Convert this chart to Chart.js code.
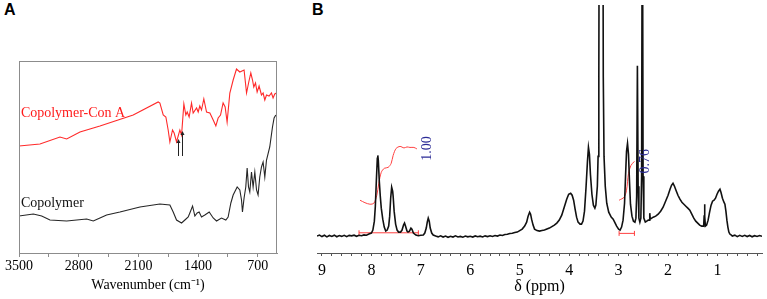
<!DOCTYPE html>
<html>
<head>
<meta charset="utf-8">
<script src="https://cdn.jsdelivr.net/npm/chart.js@4/dist/chart.umd.min.js"></script>
<style>
  html, body { margin: 0; padding: 0; background: #fff; }
  body { width: 767px; height: 299px; position: relative; overflow: hidden; }
  .panel { position: absolute; top: 0; height: 299px; }
  .tag { position: absolute; top: 2px; font: bold 16px "Liberation Sans", Arial, sans-serif; color: #000; line-height: 16px; }
</style>
</head>
<body>
<div class="tag" style="left:4px">A</div>
<div class="tag" style="left:312px">B</div>
<div class="panel" style="left:0; width:290px"><canvas id="canvas_ftir"></canvas></div>
<div class="panel" style="left:290px; width:477px"><canvas id="canvas_nmr"></canvas></div>
<script>
// ---- panel A: FTIR ----
var conA_wn = [3500, 3254, 3020, 2941, 2785, 2551, 2161, 1868, 1848, 1809, 1778, 1751, 1731, 1700, 1681, 1653,
    1614, 1594, 1567, 1544, 1528, 1505, 1477, 1458, 1418, 1399, 1380, 1360, 1333, 1301, 1262, 1223, 1192,
    1165, 1137, 1107, 1083, 1060, 1028, 989, 950, 911, 861, 832, 806, 782, 762, 747, 727, 708, 685, 657,
    638, 618, 598, 568, 540, 521, 501, 481];
var conA_val = [107, 109, 116, 114, 121, 127, 138, 151, 150, 138, 136, 123, 111, 123, 120, 111,
    123, 118, 149, 138, 141, 136, 150, 140, 145, 141, 147, 143, 154, 141, 140, 133, 127,
    135, 138, 150, 146, 131, 160, 173, 184, 181, 183, 160, 171, 180, 173, 166, 170, 161, 167, 158,
    160, 153, 158, 157, 160, 155, 159, 160];
var copo_wn = [3500, 3332, 3234, 3137, 2941, 2707, 2629, 2551, 2473, 2317, 2082, 1848, 1731, 1692, 1653,
    1594, 1555, 1516, 1497, 1465, 1438, 1411, 1388, 1360, 1321, 1270, 1223, 1184, 1126, 1075, 1048,
    1016, 989, 942, 911, 891, 880, 861, 841, 825, 809, 794, 774, 755, 735, 715, 697, 677, 657, 638,
    618, 598, 560, 528, 509, 489];
var copo_val = [37, 39, 37, 33, 32, 34, 32, 35, 38, 41, 46, 49, 48, 41, 33,
    30, 33, 36, 40, 47, 37, 40, 41, 36, 38, 41, 35, 32, 35, 33, 36,
    50, 58, 66, 63, 53, 41, 55, 66, 85, 66, 61, 81, 66, 81, 63, 58, 76, 86, 91,
    76, 93, 106, 126, 135, 138];
var ftirTicks = [3500, 3150, 2800, 2450, 2100, 1750, 1400, 1050, 700];
var ftirTickLabels = [3500, 2800, 2100, 1400, 700];
var ftirNames = ['Copolymer-Con A', 'Copolymer'];
var ftirNameWn = [3478, 3478];
var ftirNameVal = [136, 46];
var arrowWn = [1641, 1587];
var arrowFrom = [97, 97];
var arrowTo = [114, 122];

// ---- panel B: 1H NMR ----
var nmrPpm = [9.10, 9.05, 9.00, 8.95, 8.90, 8.85, 8.80, 8.75, 8.70, 8.65, 8.60, 8.55, 8.50, 8.45, 8.40, 8.35,
    8.30, 8.25, 8.20, 8.15, 8.10, 8.05, 8.00, 7.97, 7.94, 7.92, 7.90, 7.88, 7.87, 7.86, 7.84, 7.82, 7.80,
    7.77, 7.74, 7.71, 7.68, 7.65, 7.63, 7.61, 7.59, 7.57, 7.56, 7.54, 7.51, 7.48, 7.45, 7.41, 7.38, 7.35,
    7.33, 7.31, 7.28, 7.26, 7.23, 7.20, 7.18, 7.15, 7.10, 7.05, 7.00, 6.95, 6.92, 6.89, 6.87, 6.85, 6.83,
    6.81, 6.78, 6.75, 6.70, 6.65, 6.60, 6.55, 6.50, 6.45, 6.40, 6.35, 6.30, 6.25, 6.20, 6.15, 6.10, 6.05,
    6.00, 5.95, 5.90, 5.85, 5.80, 5.75, 5.70, 5.65, 5.60, 5.55, 5.50, 5.45, 5.40, 5.35, 5.30, 5.25, 5.20,
    5.15, 5.10, 5.05, 5.00, 4.95, 4.90, 4.86, 4.83, 4.80, 4.78, 4.76, 4.73, 4.70, 4.65, 4.60, 4.55, 4.50,
    4.45, 4.40, 4.35, 4.30, 4.25, 4.20, 4.15, 4.10, 4.05, 4.01, 3.97, 3.94, 3.91, 3.88, 3.85, 3.82, 3.78,
    3.75, 3.72, 3.69, 3.66, 3.63, 3.61, 3.59, 3.57, 3.54, 3.51, 3.48, 3.46, 3.43, 3.415, 3.40, 3.39, 3.32,
    3.31, 3.295, 3.27, 3.24, 3.20, 3.15, 3.11, 3.08, 3.04, 3.00, 2.97, 2.94, 2.91, 2.88, 2.86, 2.84, 2.82,
    2.80, 2.78, 2.76, 2.73, 2.70, 2.67, 2.65, 2.635, 2.62, 2.605, 2.59, 2.57, 2.55, 2.535, 2.52, 2.505, 2.49,
    2.46, 2.43, 2.40, 2.38, 2.37, 2.36, 2.33, 2.30, 2.25, 2.20, 2.15, 2.10, 2.05, 2.00, 1.96, 1.93, 1.90,
    1.87, 1.84, 1.80, 1.76, 1.72, 1.68, 1.64, 1.60, 1.56, 1.52, 1.48, 1.44, 1.40, 1.36, 1.32, 1.28, 1.27,
    1.262, 1.255, 1.245, 1.22, 1.19, 1.16, 1.13, 1.10, 1.07, 1.04, 1.01, 0.98, 0.95, 0.93, 0.90, 0.87, 0.85,
    0.83, 0.81, 0.79, 0.77, 0.75, 0.72, 0.70, 0.65, 0.60, 0.55, 0.50, 0.45, 0.40, 0.35, 0.30, 0.25, 0.20,
    0.15, 0.10];
var nmrInt = [0, 1, -0.5, 0.8, -0.8, 0.6, -0.4, 0.9, -0.7, 0.5, -0.3, 0.8, -0.6, 0.7, 0.2, 0.9,
    -0.2, 0.8, 0.4, 1.2, 0.8, 2, 3, 6, 15, 30, 55, 78, 81, 76, 55, 40, 28,
    17, 9, 5, 6, 10, 20, 38, 49, 45, 40, 25, 12, 6, 4, 4, 6, 11,
    13, 10, 5, 4, 5, 8, 7, 3, 1, 0.3, 0.8, 1, 3, 8, 14, 18, 15,
    8, 3, 1, 0, -0.8, 0.3, -1, 0, -1.2, -0.2, -1, 0.2, -0.9, -0.3, -1.1, 0, -0.8,
    -0.2, -1, 0.1, -0.7, -0.1, -0.9, 0.2, -0.5, 0.3, -0.4, 0.5, 0, 1, 0.6, 1.5, 1.8, 2.5,
    2.8, 3.5, 4, 5.5, 7, 10, 14, 20, 24, 22, 17, 11, 7, 5.5, 5, 5.5, 6,
    7, 8, 9.5, 11, 13, 16, 21, 29, 37, 42, 43, 41, 36, 27, 19, 14, 12,
    12, 15, 25, 48, 75, 89, 82, 62, 42, 31, 28, 31, 50, 80, 160, 400, 400,
    160, 80, 50, 33, 24, 19, 17, 14, 10, 7, 6, 9, 16, 33, 60, 85, 93,
    82, 55, 32, 20, 15, 14, 18, 40, 171, 50, 18, 14, 18, 60, 400, 60, 18,
    14, 15, 16, 16, 23, 17, 18, 19, 20, 22, 25, 29, 35, 41, 47, 51, 53,
    50, 46, 41, 37, 34, 32, 30, 28, 26, 22, 18, 15, 13, 11, 10, 10, 20,
    32, 20, 10, 11, 16, 24, 31, 35, 36, 38, 42, 45, 47, 44, 38, 34, 32,
    25, 16, 9, 4, 2, 1, 0, 0.9, -0.6, 0.7, -0.3, 0.8, -0.5, 0.6, -0.7, 0.4, -0.4,
    0.5, -0.2];
// integral traces
var integ1Ppm = [8.23, 8.13, 8.03, 7.95, 7.89, 7.85, 7.80, 7.74, 7.66, 7.60, 7.56, 7.50, 7.42, 7.34, 7.28, 7.22, 7.14, 7.08];
var integ1Val = [36, 33.5, 32, 33, 41, 53, 64, 68, 69, 73, 81, 88, 90, 88.5, 89.5, 89, 89, 87.5];
var integ2Ppm = [2.99, 2.89, 2.84, 2.80, 2.75, 2.68];
var integ2Val = [36, 39, 46, 63, 71, 75];
var integBase1Ppm = [8.25, 7.05];
var integBase2Ppm = [2.99, 2.68];
var integBaseVal = [3.3, 2.7];
var integLabels = ['1.00', '0.76'];
var integLabelPpm = [6.87, 2.45];
var integLabelVal = [88, 75];
var nmrTicks = [9.0, 8.8, 8.6, 8.4, 8.2, 8.0, 7.8, 7.6, 7.4, 7.2, 7.0, 6.8, 6.6, 6.4, 6.2, 6.0, 5.8, 5.6,
    5.4, 5.2, 5.0, 4.8, 4.6, 4.4, 4.2, 4.0, 3.8, 3.6, 3.4, 3.2, 3.0, 2.8, 2.6, 2.4, 2.2, 2.0, 1.8, 1.6,
    1.4, 1.2, 1.0, 0.8, 0.6, 0.4, 0.2];
var nmrTickLabels = [9, 8, 7, 6, 5, 4, 3, 2, 1];

var SERIF = '"Liberation Serif", "Times New Roman", serif';

function pts(xs, ys) {
    return xs.map((x, i) => ({ x: x, y: ys[i] }));
}

// frame, series names and arrows for panel A
const ftirDecor = {
    id: 'ftirDecor',
    afterDatasetsDraw(chart) {
        const c = chart.ctx, a = chart.chartArea;
        const xs = chart.scales.x, ys = chart.scales.y;
        c.save();
        c.strokeStyle = '#8c8c8c';
        c.lineWidth = 1;
        c.strokeRect(a.left + 0.5, a.top + 0.5, a.right - a.left - 1, a.bottom - a.top);
        c.font = '14px ' + SERIF;
        c.textBaseline = 'alphabetic';
        ftirNames.forEach((t, i) => {
            c.fillStyle = i == 0 ? '#ff1a1a' : '#111';
            c.fillText(t, xs.getPixelForValue(ftirNameWn[i]), ys.getPixelForValue(ftirNameVal[i]));
        });
        c.strokeStyle = '#222';
        c.fillStyle = '#222';
        arrowWn.forEach((w, i) => {
            const x = Math.round(xs.getPixelForValue(w)) + 0.5;
            const y0 = ys.getPixelForValue(arrowFrom[i]), y1 = ys.getPixelForValue(arrowTo[i]);
            c.beginPath();
            c.moveTo(x, y0);
            c.lineTo(x, y1 + 3);
            c.stroke();
            c.beginPath();
            c.moveTo(x - 2, y1 + 4);
            c.lineTo(x + 2, y1 + 4);
            c.lineTo(x, y1);
            c.closePath();
            c.fill();
        });
        c.restore();
    }
};

// rotated integral values for panel B
const nmrDecor = {
    id: 'nmrDecor',
    afterDatasetsDraw(chart) {
        const c = chart.ctx;
        const xs = chart.scales.x, ys = chart.scales.y;
        c.save();
        c.font = '14px ' + SERIF;
        c.fillStyle = '#2b2b96';
        c.textAlign = 'center';
        c.textBaseline = 'middle';
        integLabels.forEach((t, i) => {
            c.save();
            c.translate(xs.getPixelForValue(integLabelPpm[i]), ys.getPixelForValue(integLabelVal[i]));
            c.rotate(-Math.PI / 2);
            c.fillText(t, 0, 0);
            c.restore();
        });
        c.restore();
    }
};

Chart.defaults.animation = false;
Chart.defaults.events = [];
Chart.defaults.font.family = SERIF;
Chart.defaults.color = '#000';

const ctxA = document.getElementById('canvas_ftir').getContext('2d');
var chartA = new Chart(ctxA, {
    type: 'line',
    data: {
        datasets: [
            {
                label: 'Copolymer-Con A',
                data: pts(conA_wn, conA_val),
                borderColor: '#ff2a2a',
                borderWidth: 1.1,
                pointRadius: 0,
                tension: 0
            },
            {
                label: 'Copolymer',
                data: pts(copo_wn, copo_val),
                borderColor: '#262626',
                borderWidth: 1.1,
                pointRadius: 0,
                tension: 0
            }
        ]
    },
    options: {
        responsive: true,
        maintainAspectRatio: false,
        devicePixelRatio: 1,
        layout: { padding: { left: 19, right: 13, top: 61, bottom: 0 } },
        plugins: { legend: { display: false }, tooltip: { enabled: false } },
        scales: {
            x: {
                type: 'linear',
                reverse: true,
                min: 475,
                max: 3500,
                afterBuildTicks: s => { s.ticks = ftirTicks.map(v => ({ value: v })); },
                afterFit: s => { s.height = 46; },
                grid: { display: true, drawOnChartArea: false, drawTicks: true, tickLength: 4, color: '#8c8c8c' },
                border: { display: true, color: '#8c8c8c' },
                ticks: {
                    autoSkip: false,
                    maxRotation: 0,
                    padding: 1,
                    font: { size: 14 },
                    callback: v => ftirTickLabels.includes(v) ? String(v) : ''
                },
                title: { display: true, text: 'Wavenumber (cm\u207B\u00B9)', font: { size: 14 }, padding: { top: 0, bottom: 5 } }
            },
            y: { display: false, min: 0, max: 192 }
        }
    },
    plugins: [ftirDecor]
});

const ctxB = document.getElementById('canvas_nmr').getContext('2d');
var chartB = new Chart(ctxB, {
    type: 'line',
    data: {
        datasets: [
            {
                label: 'spectrum',
                data: pts(nmrPpm, nmrInt),
                borderColor: '#111',
                borderWidth: 1.6,
                pointRadius: 0,
                tension: 0
            },
            {
                label: 'integral 1',
                data: pts(integ1Ppm, integ1Val),
                borderColor: '#ff4040',
                borderWidth: 1,
                pointRadius: 0,
                tension: 0.3
            },
            {
                label: 'integral 2',
                data: pts(integ2Ppm, integ2Val),
                borderColor: '#ff4040',
                borderWidth: 1,
                pointRadius: 0,
                tension: 0.3
            },
            {
                label: 'base 1',
                data: pts(integBase1Ppm, [integBaseVal[0], integBaseVal[0]]),
                borderColor: '#ff4040',
                borderWidth: 1,
                pointStyle: 'line',
                pointRotation: 90,
                pointRadius: 2.5,
                pointBorderColor: '#ff4040',
                pointBorderWidth: 1
            },
            {
                label: 'base 2',
                data: pts(integBase2Ppm, [integBaseVal[1], integBaseVal[1]]),
                borderColor: '#ff4040',
                borderWidth: 1,
                pointStyle: 'line',
                pointRotation: 90,
                pointRadius: 2.5,
                pointBorderColor: '#ff4040',
                pointBorderWidth: 1
            }
        ]
    },
    options: {
        responsive: true,
        maintainAspectRatio: false,
        devicePixelRatio: 1,
        layout: { padding: { left: 27, right: 4, top: 4, bottom: 0 } },
        plugins: { legend: { display: false }, tooltip: { enabled: false } },
        scales: {
            x: {
                type: 'linear',
                reverse: true,
                min: 0.1,
                max: 9.1,
                afterBuildTicks: s => { s.ticks = nmrTicks.map(v => ({ value: v })); },
                afterFit: s => { s.height = 46; },
                grid: { display: true, drawOnChartArea: false, drawTicks: true, tickLength: 3, color: '#555' },
                border: { display: true, color: '#555' },
                ticks: {
                    autoSkip: false,
                    maxRotation: 0,
                    padding: 5,
                    font: { size: 16 },
                    callback: v => nmrTickLabels.includes(v) ? String(v) : ''
                },
                title: { display: true, text: '\u03B4 (ppm)', font: { size: 16 }, padding: { top: 0, bottom: 3 } }
            },
            y: { display: false, min: -17, max: 232 }
        }
    },
    plugins: [nmrDecor]
});
</script>
</body>
</html>
